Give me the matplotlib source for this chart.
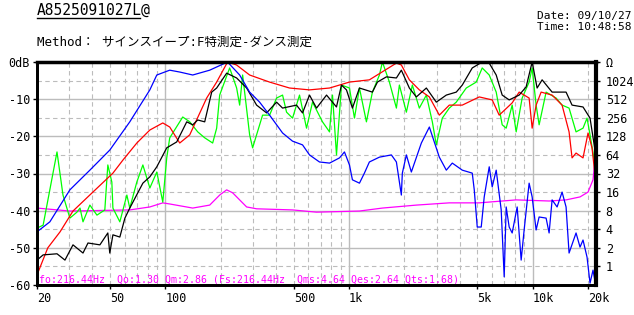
import matplotlib
matplotlib.use('Agg')
import matplotlib.pyplot as plt
from matplotlib.lines import Line2D

plt.rcParams['font.family'] = ['DejaVu Sans Mono', 'Noto Sans CJK JP']

# frequency response curves (Hz, dB)
black_f = [20, 21.6, 25.7, 28.4, 31.4, 35.6, 37.9, 44.0, 48.6, 49.8, 51.8, 56.5, 60.2, 64.0, 75.4, 82.3,
           89.8, 101.7, 115.3, 130.7, 140.9, 150, 163.7, 178.7, 190.2, 215.6, 244.3, 276.9, 313.8, 355.7,
           403, 434.5, 517.6, 558, 609, 665, 754, 854, 909, 968, 1043, 1139, 1340, 1427, 1597, 1810, 1926,
           2129, 2324, 2635, 2985, 3384, 3834, 4134, 4685, 5308, 5795, 6325, 6818, 7442, 8434, 9206, 9925,
           10564, 11247, 12748, 15186, 16371, 18782, 20508, 21826, 22100]
black_db = [-53.3, -51.9, -51.6, -53.3, -49.2, -51.4, -48.7, -49.2, -46.0, -51.4, -46.5, -47.1, -42.0, -39.3,
            -32.6, -30.9, -28.2, -23.1, -21.5, -16.1, -16.9, -15.6, -16.1, -8.1, -7.0, -3.0, -4.3, -7.0, -11.6,
            -13.7, -10.8, -12.4, -11.6, -13.7, -8.9, -12.4, -8.9, -12.1, -6.2, -7.5, -12.4, -7.0, -8.1, -5.4,
            -4.0, -4.3, -2.2, -7.0, -9.4, -7.0, -10.8, -8.9, -8.1, -6.2, -1.6, 0, -0.3, -3.5, -8.9, -10.2,
            -8.9, -6.7, 0, -7.0, -4.8, -8.1, -8.1, -11.6, -12.1, -15.1, -23.7, -34.4]

green_f = [20, 21.6, 25.7, 27.7, 30.2, 33.0, 34.3, 35.6, 38.8, 42.4, 46.8, 48.6, 51.1, 51.8, 56.5, 61.7,
           64.0, 69.9, 75.4, 82.3, 89.8, 96.8, 101.7, 105.6, 124.3, 135.7, 150, 163.7, 180.9, 190.2, 197.5,
           223.8, 244.3, 253.7, 263.4, 287.5, 298.5, 338.2, 369.3, 403, 434.5, 456.8, 492.4, 537.4, 586.7,
           632.5, 716.8, 782.6, 812.5, 854.2, 909.4, 1005, 1070, 1139, 1243, 1340, 1463, 1519, 1658, 1810,
           1879, 2051, 2211, 2413, 2635, 2840, 2985, 3218, 3513, 3834, 4346, 4925, 5308, 5795, 6325, 6818,
           7168, 7727, 8124, 8756, 9556, 9925, 10433, 10832, 11823, 13401, 14444, 15767, 17209, 18782,
           19751, 20508, 21826, 22100]
green_db = [-44.7, -43.9, -24.2, -35.8, -42.0, -40.4, -39.3, -43.0, -38.5, -41.2, -39.8, -27.7, -32.3, -39.3,
            -43.0, -35.8, -39.3, -32.3, -27.7, -33.9, -29.6, -37.7, -25.8, -20.4, -14.8, -16.1, -18.8, -20.4,
            -21.8, -17.8, -8.9, -1.6, -7.0, -11.6, -3.5, -19.6, -23.1, -14.3, -14.3, -9.7, -8.9, -13.5, -15.1,
            -8.9, -17.8, -10.8, -16.1, -18.8, -8.9, -25.0, -6.2, -7.0, -15.1, -7.0, -16.1, -8.1, -3.5, 0,
            -5.4, -12.4, -6.2, -13.5, -6.2, -12.4, -8.9, -16.1, -22.3, -15.1, -12.4, -10.8, -7.0, -5.4, -1.6,
            -3.5, -8.1, -16.9, -17.8, -11.6, -18.8, -9.7, -5.4, -1.6, -11.6, -16.9, -8.1, -9.7, -11.6, -12.4,
            -18.8, -17.8, -15.1, -19.6, -27.7, -34.4]

red_f = [20, 22.9, 26.7, 31.4, 40.3, 51.8, 58.7, 69.9, 82.3, 96.8, 105.6, 119.7, 135.7, 167.8, 190.2, 218,
         244, 287.5, 369, 474, 609, 783, 1005, 1290, 1810, 1926, 2129, 2413, 2736, 3100, 3513, 4134, 5113,
         6016, 6567, 7727, 8434, 9556, 9925, 10433, 11107, 12748, 14444, 15767, 16371, 17209, 18782, 20000,
         21022, 21826, 22100]
red_db = [-57.3, -50.0, -45.7, -40.1, -35.0, -29.9, -26.4, -21.8, -18.3, -16.4, -17.5, -21.8, -19.6, -9.7,
          -5.4, 0, -0.8, -3.5, -5.4, -7.0, -7.5, -7.0, -5.4, -4.8, -0.3, -0.8, -4.8, -7.5, -9.4, -14.3, -11.6,
          -11.6, -9.4, -10.2, -14.3, -11.0, -8.1, -9.7, -17.8, -11.6, -8.1, -8.9, -11.6, -18.8, -25.8, -24.5,
          -25.8, -19.1, -23.1, -30.4, -45.7]

# impedance-like curves (Hz, dB on the same scale)
blue_f = [20, 23.5, 30.2, 38.8, 49.8, 64.0, 82.3, 89.8, 105.6, 119.7, 140.9, 174.3, 218, 253.7, 287.5,
          325.8, 369.3, 434.5, 492.4, 558, 609, 690, 783, 887, 944, 1005, 1043, 1139, 1212, 1290, 1463, 1700,
          1810, 1926, 1950, 2051, 2183, 2475, 2736, 3100, 3384, 3647, 4134, 4685, 4804, 4987, 5243, 5443,
          5795, 6016, 6325, 6734, 6991, 7168, 7442, 7727, 8226, 8648, 8978, 9556, 9925, 10433, 10832, 11823,
          12277, 12748, 13570, 14444, 15186, 15767, 17209, 18090, 18782, 19751, 20508, 21287, 22100]
blue_db = [-45.7, -43.0, -34.4, -29.1, -23.7, -16.1, -7.5, -3.5, -2.2, -2.7, -3.5, -2.2, 0, -3.5, -8.1, -10.8,
           -14.3, -19.1, -21.3, -22.3, -25.0, -26.9, -27.2, -25.8, -24.2, -27.7, -31.7, -32.6, -29.9, -26.9,
           -25.6, -25.0, -26.9, -35.8, -29.9, -25.0, -29.6, -21.8, -17.5, -25.6, -29.1, -27.2, -29.1, -29.9,
           -34.4, -44.4, -44.4, -36.3, -28.2, -33.6, -29.1, -39.8, -57.8, -39.0, -44.4, -46.0, -39.0, -53.3,
           -45.2, -32.6, -36.3, -45.2, -41.7, -42.0, -46.0, -37.1, -39.0, -35.0, -39.0, -51.4, -46.0, -49.8,
           -47.9, -52.5, -59.5, -56.0, -60.5]

mag_f = [20, 30.2, 64, 82.3, 96.8, 105.6, 140.9, 174.3, 197.5, 215.6, 232.4, 276.9, 313.8, 492.4, 665, 1139,
         1519, 2324, 3513, 5113, 8124, 12277, 15186, 18090, 20000, 21287, 21826, 22100]
mag_db = [-39.3, -40.1, -39.8, -39.0, -37.9, -38.2, -39.3, -38.5, -35.8, -34.4, -35.2, -39.0, -39.5, -39.8,
          -40.4, -40.1, -39.3, -38.5, -37.9, -37.9, -37.1, -37.4, -37.1, -36.3, -35.0, -31.7, -26.4, -21.0]

x_ticks = [20, 50, 100, 500, 1000, 5000, 10000, 20000]
x_labels = ['20', '50', '100', '500', '1k', '5k', '10k', '20k']
x_grid_solid = [100, 1000, 10000]
x_grid_dash = [30, 40, 50, 60, 70, 80, 90, 200, 300, 400, 500, 600, 700, 800, 900,
               2000, 3000, 4000, 5000, 6000, 7000, 8000, 9000, 20000]
y_ticks = [0, -10, -20, -30, -40, -50, -60]
y_labels = ['0dB', '-10', '-20', '-30', '-40', '-50', '-60']
y_grid_dash = [-5, -15, -25, -35, -45, -55]
ohm_ticks = [1, 2, 4, 8, 16, 32, 64, 128, 256, 512, 1024, 2048]
ohm_labels = ['1', '2', '4', '8', '16', '32', '64', '128', '256', '512', '1024', 'Ω']

fig = plt.figure(figsize=(6.34, 3.15), dpi=100)
ax = fig.add_axes([37/634, 1-285/315, 559/634, 223/315])

gc = '#bcbcbc'
for v in y_ticks[1:-1]:
    ax.axhline(v, color=gc, lw=1.0, zorder=0)
for v in y_grid_dash:
    ax.axhline(v, color=gc, lw=0.8, ls=(0, (4, 3)), zorder=0)
for v in x_grid_solid:
    ax.axvline(v, color=gc, lw=1.0, zorder=0)
for v in x_grid_dash:
    ax.axvline(v, color=gc, lw=0.8, ls=(0, (4, 3)), zorder=0)

ax.plot(mag_f, mag_db, color='#ff00ff', lw=0.9)
ax.plot(green_f, green_db, color='#00ff00', lw=0.9)
ax.plot(red_f, red_db, color='#ff0000', lw=0.9)
ax.plot(black_f, black_db, color='black', lw=0.9)
ax.plot(blue_f, blue_db, color='#0000ff', lw=0.9)

ax.set_xscale('log')
ax.set_xlim(20, 22100)
ax.set_ylim(-60, 0)
ax.set_xticks(x_ticks)
ax.set_xticklabels(x_labels)
ax.minorticks_off()
for lab in ax.get_xticklabels():
    lab.set_ha('left')
ax.set_yticks(y_ticks)
ax.set_yticklabels(y_labels)
ax.tick_params(labelsize=8.5, length=3, width=1, pad=2)
for s in ax.spines.values():
    s.set_linewidth(2)
ax.spines['top'].set_linewidth(2.5)

ax2 = ax.twinx()
ax2.set_yscale('log', base=2)
ax2.set_ylim(0.5, 2048)
ax2.set_yticks(ohm_ticks)
ax2.set_yticklabels(ohm_labels)
ax2.minorticks_off()
ax2.tick_params(labelsize=8.5, length=3, width=1, pad=4)
for s in ax2.spines.values():
    s.set_linewidth(2)
ax2.spines['right'].set_linewidth(3)

ax.text(20.4, -58.6, 'fo:216.44Hz  Qo:1.30 Qm:2.86 (Fs:216.44Hz  Qms:4.64 Qes:2.64 Qts:1.68)',
        color='#ff00ff', fontsize=7.1, va='center', ha='left')

fig.text(37/634, 1-15/315, 'A8525091027L@', fontsize=10.5, va='baseline')
fig.add_artist(Line2D([37/634, 140/634], [1-18/315, 1-18/315], color='black', lw=1))
fig.text(37/634, 1-46/315, 'Method： サインスイープ:F特測定-ダンス測定', fontsize=9, va='baseline')
fig.text(537/634, 1-19/315, 'Date: 09/10/27', fontsize=8, va='baseline')
fig.text(537/634, 1-30/315, 'Time: 10:48:58', fontsize=8, va='baseline')

fig.savefig('out.png', dpi=100)
